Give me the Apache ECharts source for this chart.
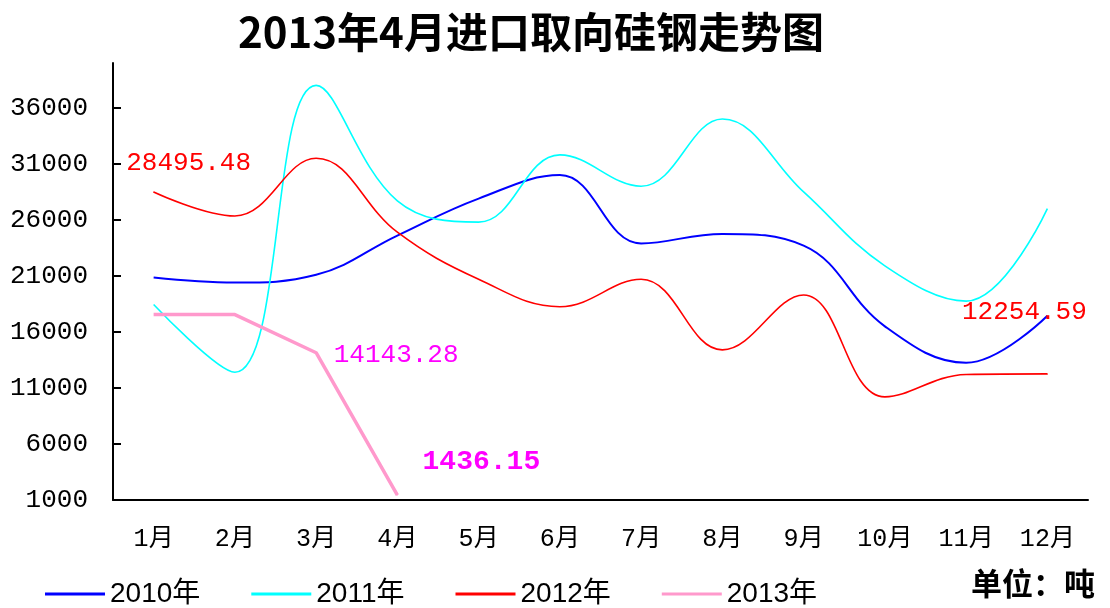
<!DOCTYPE html>
<html>
<head>
<meta charset="utf-8">
<title>2013年4月进口取向硅钢走势图</title>
<script src="https://cdn.jsdelivr.net/npm/echarts@6/dist/echarts.min.js"></script>
<style>
 html, body { margin: 0; padding: 0; background: #fff; }
 #chart { width: 1110px; height: 608px; }
</style>
</head>
<body>
<div id="chart"></div>
<script>
const months = ['1月', '2月', '3月', '4月', '5月', '6月', '7月', '8月', '9月', '10月', '11月', '12月']
const yTicks = [1000, 6000, 11000, 16000, 21000, 26000, 31000, 36000]

const s2010 = [20850, 20400, 21100, 24600, 27900, 30000, 23900, 24750, 23700, 16500, 13250, 17450]
const s2011 = [18450, 12400, 38000, 27700, 25800, 31800, 29000, 35000, 28500, 21900, 18750, 27000]
const s2012 = [28495.48, 26350, 31500, 24900, 20700, 18250, 20700, 14400, 19300, 10200, 12200, 12254.59]
const s2013 = [17550, 17550, 14143.28, 1436.15]

const monoFont = "'Liberation Mono', 'Noto Sans CJK SC', monospace"

// put a text label on one point of a series
function withLabels(values, labels) {
 return values.map((v, i) => {
 const lab = labels[i]
 if (!lab) return v
 return {
 value: v,
 symbol: 'circle',
 symbolSize: 1,
 label: Object.assign({
 show: true,
 position: 'inside',
 fontFamily: monoFont,
 fontSize: 26,
 formatter: () => String(v)
 }, lab)
 }
 })
}

const chart = echarts.init(document.getElementById('chart'))

chart.setOption({
 backgroundColor: '#fff',
 animation: false,
 title: {
 text: '2013年4月进口取向硅钢走势图',
 left: 233,
 top: 6,
 textStyle: { fontFamily: "'Noto Sans CJK SC'", fontSize: 42, fontWeight: 'bold', color: '#000' }
 },
 legend: {
 left: 40,
 top: 575,
 icon: 'rect',
 itemWidth: 60,
 itemHeight: 3,
 itemGap: 51,
 textStyle: { fontFamily: "'Liberation Sans', 'Noto Sans CJK SC'", fontSize: 28, color: '#000' },
 data: ['2010年', '2011年', '2012年', '2013年']
 },
 graphic: [{
 type: 'text',
 left: 971,
 top: 568,
 style: { text: '单位：吨', fontFamily: "'Noto Sans CJK SC'", fontSize: 31, fontWeight: 'bold', fill: '#000' }
 }],
 grid: { left: 113, right: 22, top: 63, bottom: 108, outerBoundsMode: 'none' },
 xAxis: {
 type: 'category',
 data: months,
 boundaryGap: true,
 axisLine: { lineStyle: { color: '#000', width: 2 } },
 axisTick: { inside: true, length: 8, lineStyle: { color: '#000', width: 2 } },
 axisLabel: { color: '#000', fontFamily: monoFont, fontSize: 25, margin: 27 },
 splitLine: { show: false }
 },
 yAxis: {
 type: 'value',
 min: 1000,
 max: 40000,
 axisLine: { show: true, lineStyle: { color: '#000', width: 2 } },
 axisTick: { show: true, inside: true, length: 8, customValues: yTicks, lineStyle: { color: '#000', width: 2 } },
 axisLabel: { color: '#000', fontFamily: monoFont, fontSize: 26, margin: 25, customValues: yTicks, formatter: v => String(v) },
 splitLine: { show: false }
 },
 series: [
 {
 name: '2010年', type: 'line', smooth: 0.4, symbol: 'none',
 itemStyle: { color: '#0000ff' }, lineStyle: { color: '#0000ff', width: 2 },
 data: s2010
 },
 {
 name: '2011年', type: 'line', smooth: 0.4, symbol: 'none',
 itemStyle: { color: '#00ffff' }, lineStyle: { color: '#00ffff', width: 1.6 },
 data: s2011
 },
 {
 name: '2012年', type: 'line', smooth: 0.4, symbol: 'none',
 itemStyle: { color: '#ff0000' }, lineStyle: { color: '#ff0000', width: 1.6 },
 data: withLabels(s2012, {
 0: { color: '#ff0000', offset: [35, -29] },
 11: { color: '#ff0000', offset: [-23, -62] }
 })
 },
 {
 name: '2013年', type: 'line', smooth: false, symbol: 'none',
 itemStyle: { color: '#ff99cc' }, lineStyle: { color: '#ff99cc', width: 3.5 },
 data: withLabels(s2013, {
 2: { color: '#ff00ff', offset: [80, 2] },
 3: { color: '#ff00ff', offset: [84, -33], fontSize: 28, fontWeight: 'bold' }
 })
 }
 ]
})
</script>
</body>
</html>
